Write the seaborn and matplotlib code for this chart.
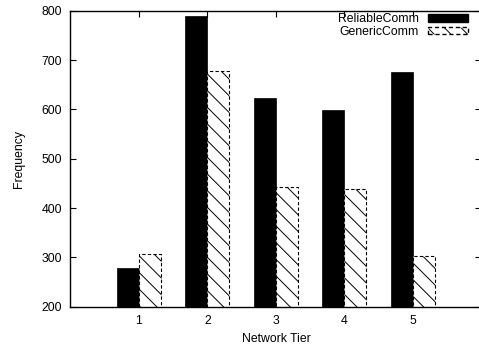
import matplotlib
matplotlib.use("Agg")
import matplotlib.pyplot as plt
import seaborn as sns
import pandas as pd
from matplotlib.patches import Patch

tiers = ["1", "2", "3", "4", "5"]
reliable = [279, 789, 624, 599, 676]
generic = [307, 679, 442, 438, 303]
series_names = ["ReliableComm", "GenericComm"]
yticks = [200, 300, 400, 500, 600, 700, 800]

sns.set_theme(style="ticks")
plt.rcParams["font.family"] = ["Liberation Sans", "DejaVu Sans"]
plt.rcParams["hatch.linewidth"] = 0.7
for k in ["text.color", "axes.labelcolor", "xtick.color", "ytick.color", "axes.edgecolor"]:
    plt.rcParams[k] = "black"

df = pd.DataFrame({
    "tier": tiers * 2,
    "value": reliable + generic,
    "series": [series_names[0]] * 5 + [series_names[1]] * 5,
})

fig = plt.figure(figsize=(4.79, 3.49), dpi=100)
ax = fig.add_axes([0.147, 0.121, 0.858, 0.848])

sns.barplot(data=df, x="tier", y="value", hue="series", order=tiers,
            hue_order=series_names, palette=["black", "white"],
            width=0.64, gap=0, ax=ax, legend=False, saturation=1)

n = len(tiers)
for i, p in enumerate(ax.patches):
    if i < n:
        p.set_facecolor("black")
        p.set_edgecolor("black")
        p.set_linewidth(0.5)
    else:
        p.set_facecolor("white")
        p.set_edgecolor("black")
        p.set_hatch("\\\\")
        p.set_linestyle((0, (3, 2)))
        p.set_linewidth(0.8)

ax.set_xlim(-1, 5)
ax.set_ylim(200, 800)
ax.set_yticks(yticks)
ax.set_xlabel("Network Tier", fontsize=8.8)
ax.set_ylabel("Frequency", fontsize=8.8, labelpad=12)
ax.tick_params(axis="both", direction="in", length=4, width=0.8,
               labelsize=8.8, top=True, right=True, pad=6)
for name, s in ax.spines.items():
    s.set_visible(name != "right")
    s.set_linewidth(1.0)
    s.set_color("black")

handles = [
    Patch(facecolor="black", edgecolor="black", label=series_names[0]),
    Patch(facecolor="white", edgecolor="black", hatch="\\\\",
          linestyle=(0, (3, 2)), label=series_names[1]),
]
ax.legend(handles=handles, loc="upper right", bbox_to_anchor=(0.990, 1.025),
          frameon=False, markerfirst=False, fontsize=8.8,
          handlelength=3.2, handleheight=0.6, handletextpad=0.8,
          labelspacing=0.05, borderpad=0.3)

fig.savefig("out.png", dpi=100)
